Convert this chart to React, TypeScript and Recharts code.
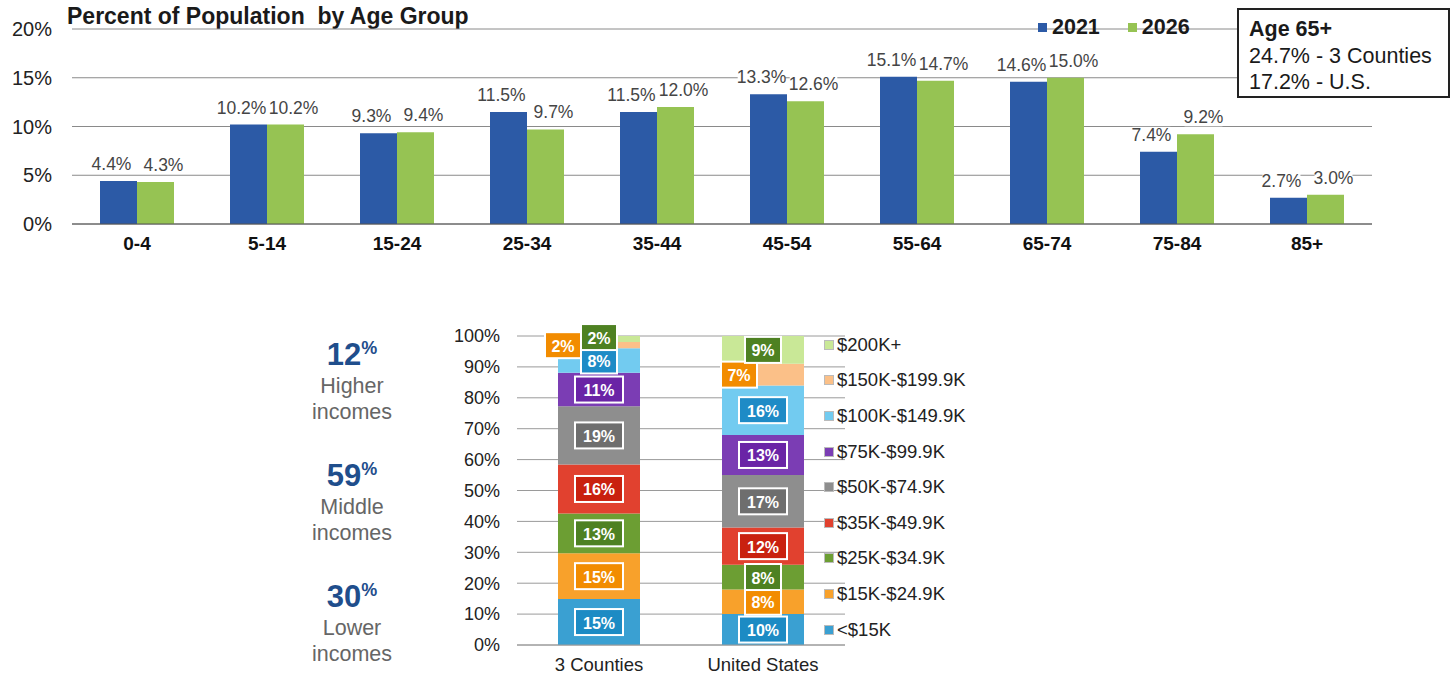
import React from "react";
import { BarChart, Bar, XAxis, YAxis, CartesianGrid, LabelList, Legend } from "recharts";

// ---------- Data: age groups ----------
const ageGroups = ["0-4", "5-14", "15-24", "25-34", "35-44", "45-54", "55-64", "65-74", "75-84", "85+"];
const pop2021 = [4.4, 10.2, 9.3, 11.5, 11.5, 13.3, 15.1, 14.6, 7.4, 2.7];
const pop2026 = [4.3, 10.2, 9.4, 9.7, 12.0, 12.6, 14.7, 15.0, 9.2, 3.0];
const ageTicks = [0, 5, 10, 15, 20];
const yearLabels = ["2021", "2026"];

// ---------- Data: income ----------
const incomeBands = [
  "<$15K",
  "$15K-$24.9K",
  "$25K-$34.9K",
  "$35K-$49.9K",
  "$50K-$74.9K",
  "$75K-$99.9K",
  "$100K-$149.9K",
  "$150K-$199.9K",
  "$200K+",
];
const areas = ["3 Counties", "United States"];
const countiesIncome = [15, 15, 13, 16, 19, 11, 8, 2, 2];
const usIncome = [10, 8, 8, 12, 17, 13, 16, 7, 9];
const incomeTicks = [0, 0.1, 0.2, 0.3, 0.4, 0.5, 0.6, 0.7, 0.8, 0.9, 1];
const incomeGroups = [
  { pct: "12", line1: "Higher", line2: "incomes" },
  { pct: "59", line1: "Middle", line2: "incomes" },
  { pct: "30", line1: "Lower", line2: "incomes" },
];

// ---------- Styles ----------
const FONT = "Arial, 'Liberation Sans', Helvetica, sans-serif";
const BLUE = "#2C5AA6";
const GREEN = "#96C353";
const segColors = ["#3AA0D2", "#F8A12B", "#6C9E33", "#E1412F", "#8E8E8E", "#7B3DB4", "#72CBF0", "#FBC088", "#C9E897"];
const boxColors = ["#1C8BC4", "#F28C00", "#4E8122", "#C9210F", "#6E6E6E", "#6A24A6", "#1E8BC6", "#F28C00", "#4E8122"];
const labelShift: Record<string, { dx: number; dy: number }> = {
  "0-7": { dx: -36, dy: 0 },
  "0-8": { dx: 0, dy: -2 },
  "1-7": { dx: -24, dy: 0 },
};
const AGE_LABEL_FONT = 17.5;

const ageData = ageGroups.map((g, i) => ({ group: g, y2021: pop2021[i], y2026: pop2026[i] }));
const incomeData = areas.map((a, i) => {
  const vals = i === 0 ? countiesIncome : usIncome;
  const row: Record<string, any> = { area: a };
  incomeBands.forEach((_, b) => (row["b" + b] = vals[b]));
  return row;
});

const textWidth = (s: string, size: number) => {
  let w = 0;
  for (const c of s) w += c === "." ? 0.278 : c === "%" ? 0.889 : 0.556;
  return w * size;
};

const ageLabel = (series: number[], shift: number) => (props: any) => {
  const { x, y, width, index } = props;
  const text = `${series[index].toFixed(1)}%`;
  const cx = Number(x) + Number(width) / 2 + shift;
  const by = Number(y) - 11;
  const tw = textWidth(text, AGE_LABEL_FONT);
  return (
    <g>
      <rect x={cx - tw / 2 + 1} y={by - 14} width={tw - 2} height={17} fill="#fff" />
      <text x={cx} y={by} textAnchor="middle" fill="#454545" fontSize={AGE_LABEL_FONT} fontFamily={FONT}>
        {text}
      </text>
    </g>
  );
};

const incomeLabel = (band: number) => (props: any) => {
  const { x, y, width, height, index } = props;
  const vals = index === 0 ? countiesIncome : usIncome;
  const text = `${vals[band]}%`;
  const w = text.length > 2 ? 48 : 36;
  const h = 26;
  const sh = labelShift[`${index}-${band}`] || { dx: 0, dy: 0 };
  const cx = Number(x) + Number(width) / 2 + sh.dx;
  const cy = Number(y) + Number(height) / 2 + sh.dy;
  return (
    <g>
      <rect x={cx - w / 2} y={cy - h / 2} width={w} height={h} fill={boxColors[band]} stroke="#fff" strokeWidth={2} />
      <text
        x={cx}
        y={cy + 1}
        textAnchor="middle"
        dominantBaseline="central"
        fill="#fff"
        fontWeight="bold"
        fontSize={16}
        fontFamily={FONT}
      >
        {text}
      </text>
    </g>
  );
};

const AgeLegend = () => (
  <div style={{ display: "flex", alignItems: "center", fontFamily: FONT, fontWeight: "bold", fontSize: 21.5, color: "#1a1a1a" }}>
    {yearLabels.map((y, i) => (
      <div key={y} style={{ display: "flex", alignItems: "center", marginRight: 28 }}>
        <span style={{ width: 9, height: 9, background: i === 0 ? BLUE : GREEN, display: "inline-block", marginRight: 5 }} />
        <span>{y}</span>
      </div>
    ))}
  </div>
);

const IncomeLegend = () => (
  <div style={{ fontFamily: FONT, fontSize: 18.5, color: "#222" }}>
    {incomeBands
      .map((b, i) => ({ b, i }))
      .reverse()
      .map(({ b, i }) => (
        <div key={b} style={{ height: 35.6, display: "flex", alignItems: "center" }}>
          <span
            style={{
              width: 8,
              height: 8,
              background: segColors[i],
              border: "1px solid #bbb",
              display: "inline-block",
              marginRight: 3,
            }}
          />
          <span>{b}</span>
        </div>
      ))}
  </div>
);

export default function App() {
  return (
    <div style={{ position: "absolute", left: 0, top: 0, width: 1452, height: 679, background: "#fff", fontFamily: FONT }}>
      {/* Title */}
      <div style={{ position: "absolute", left: 67, top: 3, fontWeight: "bold", fontSize: 23, color: "#1a1a1a", whiteSpace: "pre" }}>
        Percent of Population  by Age Group
      </div>

      {/* Top chart */}
      <div style={{ position: "absolute", left: 0, top: 0 }}>
        <BarChart
          width={1452}
          height={270}
          data={ageData}
          margin={{ top: 29, right: 80, bottom: 0, left: 0 }}
          barGap={0}
          barSize={37}
        >
          <CartesianGrid horizontal vertical={false} stroke="#8a8a8a" />
          <XAxis
            dataKey="group"
            height={46}
            tickLine={false}
            axisLine={{ stroke: "#555" }}
            tickMargin={7}
            tick={{ fontSize: 19, fontWeight: "bold", fill: "#111", fontFamily: FONT }}
          />
          <YAxis
            width={72}
            domain={[0, 20]}
            ticks={ageTicks}
            tickLine={false}
            axisLine={false}
            tickMargin={14}
            tickFormatter={(v: number) => `${v}%`}
            tick={{ fontSize: 20, fill: "#222", fontFamily: FONT }}
          />
          <Legend
            layout="horizontal"
            verticalAlign="middle"
            align="center"
            content={() => <AgeLegend />}
            wrapperStyle={{ top: 15, left: 1038, width: 200, height: 26 }}
          />
          <Bar dataKey="y2021" fill={BLUE} isAnimationActive={false}>
            <LabelList dataKey="y2021" content={ageLabel(pop2021, -7)} />
          </Bar>
          <Bar dataKey="y2026" fill={GREEN} isAnimationActive={false}>
            <LabelList dataKey="y2026" content={ageLabel(pop2026, 8)} />
          </Bar>
        </BarChart>
      </div>

      {/* Age 65+ box */}
      <div
        style={{
          position: "absolute",
          left: 1237,
          top: 8,
          width: 213,
          height: 90,
          border: "2px solid #222",
          background: "#fff",
          padding: "6px 0 0 10px",
          boxSizing: "border-box",
          fontSize: 21.5,
          color: "#1a1a1a",
          lineHeight: "26.5px",
        }}
      >
        <div style={{ fontWeight: "bold" }}>Age 65+</div>
        <div>24.7% - 3 Counties</div>
        <div>17.2% - U.S.</div>
      </div>

      {/* Income group summary */}
      {incomeGroups.map((g, i) => (
        <div
          key={g.pct}
          style={{
            position: "absolute",
            left: 292,
            width: 120,
            top: 337 + i * 121,
            textAlign: "center",
            color: "#666",
            fontSize: 21.5,
            lineHeight: "26px",
          }}
        >
          <div style={{ color: "#1F4E8C", fontWeight: "bold", fontSize: 31, lineHeight: "36px" }}>
            {g.pct}
            <span style={{ fontSize: 18, verticalAlign: "top", position: "relative", top: -7 }}>%</span>
          </div>
          <div>{g.line1}</div>
          <div>{g.line2}</div>
        </div>
      ))}

      {/* Bottom chart */}
      <div style={{ position: "absolute", left: 440, top: 320 }}>
        <BarChart
          width={600}
          height={360}
          data={incomeData}
          stackOffset="expand"
          margin={{ top: 16, right: 195, bottom: 0, left: 0 }}
          barSize={82}
        >
          <CartesianGrid horizontal vertical={false} stroke="#9a9a9a" />
          <XAxis
            dataKey="area"
            height={35}
            tickLine={false}
            axisLine={{ stroke: "#9a9a9a" }}
            tickMargin={7}
            tick={{ fontSize: 18.5, fill: "#222", fontFamily: FONT }}
          />
          <YAxis
            width={77}
            domain={[0, 1]}
            ticks={incomeTicks}
            tickLine={false}
            axisLine={false}
            tickMargin={11}
            tickFormatter={(v: number) => `${Math.round(v * 100)}%`}
            tick={{ fontSize: 18, fill: "#222", fontFamily: FONT }}
          />
          <Legend
            layout="horizontal"
            verticalAlign="middle"
            align="center"
            content={() => <IncomeLegend />}
            wrapperStyle={{ top: 7, left: 384, width: 210, height: 330 }}
          />
          {incomeBands.map((b, i) => (
            <Bar key={b} dataKey={"b" + i} stackId="inc" fill={segColors[i]} isAnimationActive={false}>
              <LabelList dataKey={"b" + i} content={incomeLabel(i)} />
            </Bar>
          ))}
        </BarChart>
      </div>
    </div>
  );
}
